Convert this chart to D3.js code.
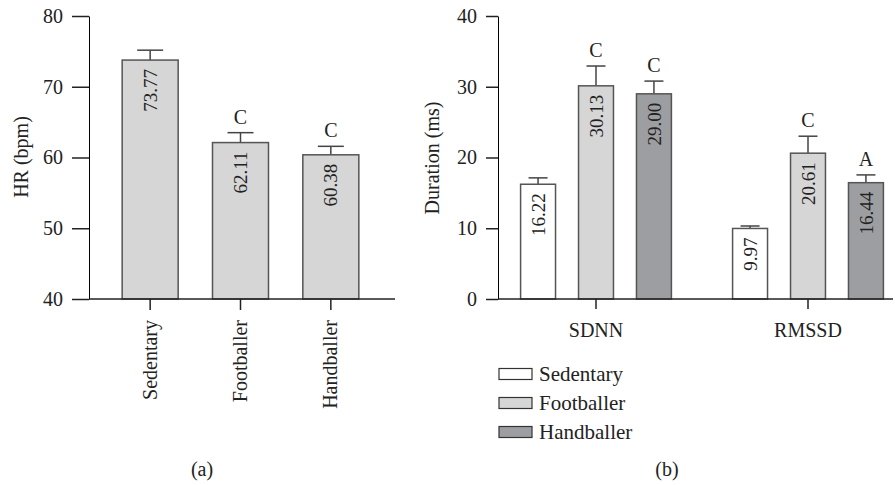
<!DOCTYPE html>
<html>
<head>
<meta charset="utf-8">
<script src="https://cdn.jsdelivr.net/npm/d3@7"></script>
<style>
  body { margin: 0; background: #fff; }
  svg text { font-family: "Liberation Serif", "Times New Roman", serif; fill: #222; }
</style>
</head>
<body>
<div id="d3"></div>
<script>
// panel (a) data
var hrGroups = ["Sedentary", "Footballer", "Handballer"];
var hrValues = [73.77, 62.11, 60.38];
var hrErrors = [1.4, 1.4, 1.2];
var hrLetters = ["", "C", "C"];
var hrTicks = [40, 50, 60, 70, 80];

// panel (b) data
var hrvMeasures = ["SDNN", "RMSSD"];
var sdnnValues = [16.22, 30.13, 29.00];
var sdnnErrors = [0.9, 2.8, 1.8];
var sdnnLetters = ["", "C", "C"];
var rmssdValues = [9.97, 20.61, 16.44];
var rmssdErrors = [0.35, 2.4, 1.1];
var rmssdLetters = ["", "C", "A"];
var hrvTicks = [0, 10, 20, 30, 40];

var fills = ["#ffffff", "#d6d6d6", "#9d9ea1"];

var width = 895;
var height = 485;
var canvas = d3.select("#d3")
               .append("svg")
               .attr("width", width)
               .attr("height", height);

// ---------- panel (a) ----------
var ya = d3.scaleLinear().domain([40, 80]).range([299, 16]);
var xa = d3.scaleBand().domain(hrGroups).range([105, 376])
           .paddingInner(0.38).paddingOuter(0.19);

canvas.append("g")
    .attr("transform", "translate(89,0)")
    .call(d3.axisLeft(ya).tickValues(hrTicks).tickSize(17).tickPadding(9).tickSizeOuter(0));

var hrData = hrGroups.map(function(g, i) {
  return {g: g, v: hrValues[i], e: hrErrors[i], l: hrLetters[i], fill: fills[1]};
});

var barsA = canvas.append("g");
drawBars(barsA, hrData, function(d) { return xa(d.g); }, xa.bandwidth(), ya, 13);

canvas.append("line")
    .attr("x1", 89).attr("x2", 395)
    .attr("y1", ya(40)).attr("y2", ya(40))
    .attr("stroke", "#222").attr("stroke-width", 1.5);

var xAxisA = canvas.append("g")
    .attr("transform", "translate(0," + ya(40) + ")")
    .call(d3.axisBottom(xa).tickSize(11).tickPadding(0).tickSizeOuter(0));
xAxisA.select(".domain").remove();
xAxisA.selectAll("text")
    .attr("transform", "rotate(-90)")
    .attr("text-anchor", "end")
    .attr("x", -21).attr("y", 0).attr("dy", "0.33em");

canvas.append("text")
    .attr("transform", "translate(28,157) rotate(-90)")
    .attr("text-anchor", "middle")
    .style("font-size", "20px")
    .text("HR (bpm)");

canvas.append("text")
    .attr("x", 202).attr("y", 476)
    .attr("text-anchor", "middle")
    .style("font-size", "20px")
    .text("(a)");

// ---------- panel (b) ----------
var yb = d3.scaleLinear().domain([0, 40]).range([299, 16]);
var x0 = d3.scaleBand().domain(hrvMeasures).range([490, 914]).padding(0);
var x1 = d3.scaleBand().domain(hrGroups).range([19, 193])
           .paddingInner(0.397).paddingOuter(0.2);

canvas.append("g")
    .attr("transform", "translate(498,0)")
    .call(d3.axisLeft(yb).tickValues(hrvTicks).tickSize(12).tickPadding(9).tickSizeOuter(0));

var hrvData = [];
hrGroups.forEach(function(g, i) {
  hrvData.push({m: "SDNN", g: g, v: sdnnValues[i], e: sdnnErrors[i], l: sdnnLetters[i], fill: fills[i]});
  hrvData.push({m: "RMSSD", g: g, v: rmssdValues[i], e: rmssdErrors[i], l: rmssdLetters[i], fill: fills[i]});
});

var barsB = canvas.append("g");
drawBars(barsB, hrvData, function(d) { return x0(d.m) + x1(d.g); }, x1.bandwidth(), yb, 9.5);

canvas.append("line")
    .attr("x1", 498).attr("x2", 893)
    .attr("y1", yb(0)).attr("y2", yb(0))
    .attr("stroke", "#222").attr("stroke-width", 1.5);

var xAxisB = canvas.append("g")
    .attr("transform", "translate(0," + yb(0) + ")")
    .call(d3.axisBottom(x0).tickSize(10).tickPadding(14).tickSizeOuter(0));
xAxisB.select(".domain").remove();

canvas.append("text")
    .attr("transform", "translate(439,158) rotate(-90)")
    .attr("text-anchor", "middle")
    .style("font-size", "20px")
    .text("Duration (ms)");

// legend
var legend = canvas.append("g").selectAll("g")
    .data(hrGroups)
    .enter().append("g")
    .attr("transform", function(d, i) { return "translate(499," + (374 + i * 29) + ")"; });
legend.append("rect")
    .attr("x", 0).attr("y", -5.5)
    .attr("width", 33).attr("height", 11)
    .attr("fill", function(d, i) { return fills[i]; })
    .attr("stroke", "#333").attr("stroke-width", 1.2);
legend.append("text")
    .attr("x", 40).attr("y", 7)
    .style("font-size", "21px")
    .text(function(d) { return d; });

canvas.append("text")
    .attr("x", 667).attr("y", 476)
    .attr("text-anchor", "middle")
    .style("font-size", "20px")
    .text("(b)");

// style axes
canvas.selectAll(".tick line").attr("stroke", "#222").attr("stroke-width", 1.5);
canvas.selectAll(".tick text")
    .attr("font-family", null)
    .style("font-size", "20px")
    .attr("fill", "#222");
canvas.selectAll("g").attr("font-family", null);

function drawBars(g, data, xpos, bw, y, capHalf) {
  var base = y.range()[0];
  var item = g.selectAll("g").data(data).enter().append("g");
  // error bar
  item.append("line")
      .attr("x1", function(d) { return xpos(d) + bw / 2; })
      .attr("x2", function(d) { return xpos(d) + bw / 2; })
      .attr("y1", function(d) { return y(d.v); })
      .attr("y2", function(d) { return y(d.v + d.e); })
      .attr("stroke", "#444").attr("stroke-width", 1.5);
  item.append("line")
      .attr("x1", function(d) { return xpos(d) + bw / 2 - capHalf; })
      .attr("x2", function(d) { return xpos(d) + bw / 2 + capHalf; })
      .attr("y1", function(d) { return y(d.v + d.e); })
      .attr("y2", function(d) { return y(d.v + d.e); })
      .attr("stroke", "#444").attr("stroke-width", 1.5);
  item.append("rect")
      .attr("x", function(d) { return xpos(d); })
      .attr("y", function(d) { return y(d.v); })
      .attr("width", bw)
      .attr("height", function(d) { return base - y(d.v); })
      .attr("fill", function(d) { return d.fill; })
      .attr("stroke", "#555").attr("stroke-width", 1.5);
  item.append("text")
      .attr("transform", function(d) {
        return "translate(" + (xpos(d) + bw / 2) + "," + (y(d.v) + 9) + ") rotate(-90)";
      })
      .attr("text-anchor", "end")
      .attr("dy", "0.35em")
      .style("font-size", "19px")
      .text(function(d) { return d.v.toFixed(2); });
  item.append("text")
      .attr("x", function(d) { return xpos(d) + bw / 2; })
      .attr("y", function(d) { return y(d.v + d.e) - 9; })
      .attr("text-anchor", "middle")
      .style("font-size", "20px")
      .text(function(d) { return d.l; });
}
</script>
</body>
</html>
